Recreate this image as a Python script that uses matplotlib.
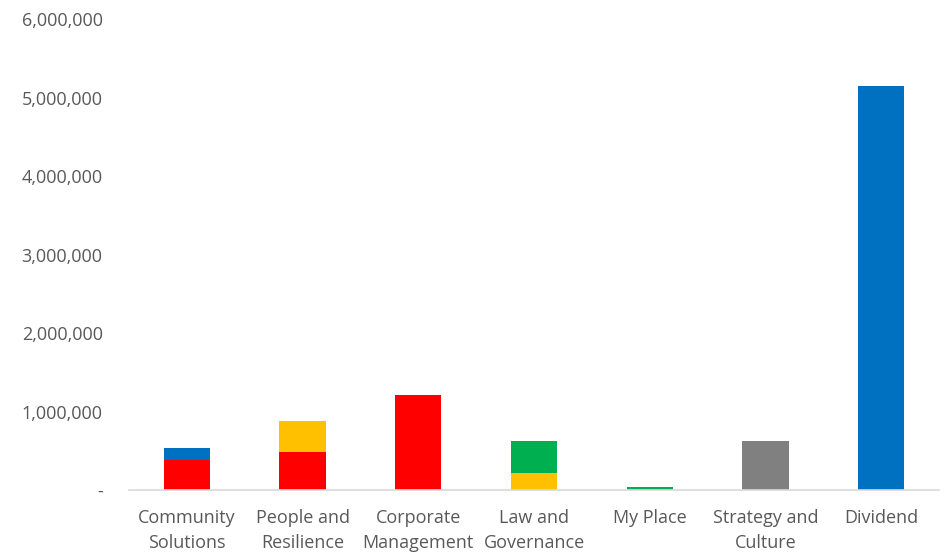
import matplotlib.pyplot as plt
from matplotlib.ticker import FuncFormatter

categories = ["Community\nSolutions", "People and\nResilience", "Corporate\nManagement",
              "Law and\nGovernance", "My Place", "Strategy and\nCulture", "Dividend"]
red = [385000, 478000, 1205000, 0, 0, 0, 0]
amber = [0, 400000, 0, 223000, 0, 0, 0]
green = [0, 0, 0, 396000, 38000, 0, 0]
blue = [144000, 0, 0, 0, 0, 0, 5147000]
grey = [0, 0, 0, 0, 0, 619000, 0]

series = [(red, "#FF0000"), (amber, "#FFC000"), (green, "#00B050"),
          (blue, "#0070C0"), (grey, "#808080")]

plt.rcParams['font.family'] = ['Open Sans', 'DejaVu Sans']

fig = plt.figure(figsize=(9.44, 5.53), dpi=100)
ax = fig.add_axes([0.1367, 0.1139, 0.858, 0.8517])

x = range(len(categories))
bottom = [0] * len(categories)
for vals, col in series:
    ax.bar(x, vals, width=0.4, bottom=bottom, color=col)
    bottom = [b + v for b, v in zip(bottom, vals)]

ax.set_xlim(-0.5, len(categories) - 0.5)
ax.set_ylim(0, 6000000)
ax.set_yticks(range(0, 6000001, 1000000))
ax.yaxis.set_major_formatter(FuncFormatter(lambda v, p: "-" if v == 0 else f"{int(v):,}"))
ax.set_xticks(list(x))
ax.set_xticklabels(categories)

for s in ["top", "right", "left"]:
    ax.spines[s].set_visible(False)
ax.spines["bottom"].set_color("#D9D9D9")
ax.spines["bottom"].set_linewidth(1.2)
ax.tick_params(axis="both", length=0, colors="#595959", labelsize=13)
ax.tick_params(axis="x", pad=14)
ax.tick_params(axis="y", pad=19)
for lbl in ax.get_xticklabels():
    lbl.set_linespacing(1.45)

fig.savefig("out.png", dpi=100)
